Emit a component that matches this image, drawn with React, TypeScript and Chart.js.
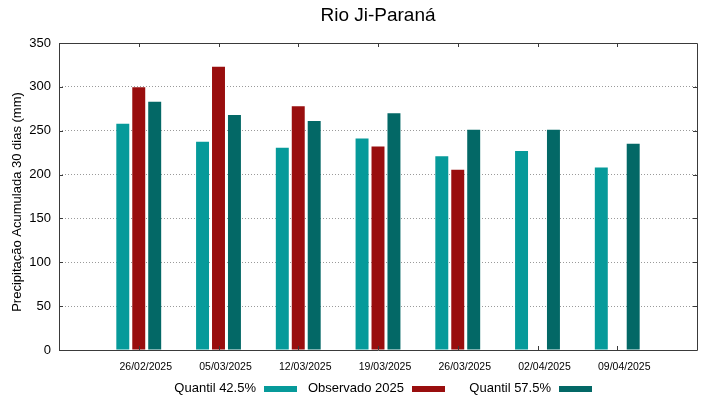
import React, { useEffect, useRef } from "react";
import { Chart, registerables } from "chart.js";

Chart.register(...registerables);

const titleText = "Rio Ji-Paraná";
const yAxisTitle = "Precipitação Acumulada 30 dias (mm)";
const dates = ["26/02/2025", "05/03/2025", "12/03/2025", "19/03/2025", "26/03/2025", "02/04/2025", "09/04/2025"];
const quantil425 = [258, 237.5, 230.5, 241, 221, 227, 208];
const observado2025: (number | null)[] = [299.5, 323, 278, 232, 205.5, null, null];
const quantil575 = [283, 268, 261, 270, 251, 251, 235];
const seriesNames = ["Quantil 42.5%", "Observado 2025", "Quantil 57.5%"];
const seriesColors = ["#069a9a", "#990e0e", "#036866"];
const yTicks = [0, 50, 100, 150, 200, 250, 300, 350];

const FONT = "'Liberation Sans', Arial, sans-serif";

const pad = (arr: (number | null)[]) => [null, ...arr, null];

const decorPlugin = {
  id: "decor",
  afterDatasetsDraw(chart: any) {
    const { ctx, chartArea } = chart;
    const { left, right, top, bottom } = chartArea;
    const xs = chart.scales.x;
    const ys = chart.scales.y;
    ctx.save();
    // border
    ctx.strokeStyle = "#3a3a3a";
    ctx.lineWidth = 1;
    ctx.beginPath();
    ctx.rect(Math.round(left) + 0.5, Math.round(top) + 0.5, Math.round(right - left), Math.round(bottom - top));
    ctx.stroke();
    // inward ticks
    ctx.beginPath();
    for (let i = 1; i <= dates.length; i++) {
      const px = Math.round(xs.getPixelForValue(i)) + 0.5;
      ctx.moveTo(px, bottom);
      ctx.lineTo(px, bottom - 4);
      ctx.moveTo(px, top);
      ctx.lineTo(px, top + 4);
    }
    for (const v of yTicks) {
      const py = Math.round(ys.getPixelForValue(v)) + 0.5;
      ctx.moveTo(left, py);
      ctx.lineTo(left + 4, py);
      ctx.moveTo(right, py);
      ctx.lineTo(right - 4, py);
    }
    ctx.stroke();
    // title
    ctx.fillStyle = "#000";
    ctx.font = `19px ${FONT}`;
    ctx.textAlign = "center";
    ctx.textBaseline = "middle";
    ctx.fillText(titleText, (left + right) / 2, 16);
    // y title
    ctx.save();
    ctx.translate(17.5, 202);
    ctx.rotate(-Math.PI / 2);
    ctx.font = `13px ${FONT}`;
    ctx.fillText(yAxisTitle, 0, 0);
    ctx.restore();
    // legend
    const swatchX = [264, 412, 559];
    ctx.font = `13px ${FONT}`;
    ctx.textAlign = "right";
    for (let i = 0; i < seriesNames.length; i++) {
      ctx.fillStyle = "#000";
      ctx.fillText(seriesNames[i], swatchX[i] - 8, 388);
      ctx.fillStyle = seriesColors[i];
      ctx.fillRect(swatchX[i], 386, 33, 6);
    }
    ctx.restore();
  },
};

export default function App() {
  const ref = useRef<HTMLCanvasElement>(null);
  useEffect(() => {
    document.body.style.margin = "0";
    const labels = ["", ...dates, ""];
    const chart = new Chart(ref.current!, {
      type: "bar",
      data: {
        labels,
        datasets: [
          { label: seriesNames[0], data: pad(quantil425), backgroundColor: seriesColors[0] },
          { label: seriesNames[1], data: pad(observado2025), backgroundColor: seriesColors[1] },
          { label: seriesNames[2], data: pad(quantil575), backgroundColor: seriesColors[2] },
        ],
      },
      options: {
        responsive: false,
        animation: false,
        events: [],
        layout: { padding: { left: 0, right: 22, top: 43, bottom: 0 } },
        datasets: { bar: { categoryPercentage: 0.6, barPercentage: 0.8125 } },
        plugins: { legend: { display: false }, title: { display: false }, tooltip: { enabled: false } },
        scales: {
          x: {
            offset: false,
            grid: { display: false, drawTicks: false },
            border: { display: false },
            ticks: {
              autoSkip: false,
              maxRotation: 0,
              padding: 11,
              labelOffset: 7,
              color: "#000",
              font: { family: FONT, size: 10.5 },
            },
            afterFit: (s: any) => {
              s.height = 49;
            },
          },
          y: {
            min: 0,
            max: 350,
            grid: {
              color: (c: any) => (c.tick && (c.tick.value === 0 || c.tick.value === 350) ? "rgba(0,0,0,0)" : "#9a9a9a"),
              drawTicks: false,
              lineWidth: 1,
            },
            border: { display: false, dash: [1, 2] },
            ticks: {
              stepSize: 50,
              padding: 8,
              color: "#000",
              font: { family: FONT, size: 13 },
            },
            afterFit: (s: any) => {
              s.width = 59;
            },
          },
        },
      },
      plugins: [decorPlugin],
    });
    return () => chart.destroy();
  }, []);
  return (
    <div style={{ position: "absolute", left: 0, top: 0, width: 719, height: 399, background: "#fff" }}>
      <canvas ref={ref} width={719} height={399} />
    </div>
  );
}
